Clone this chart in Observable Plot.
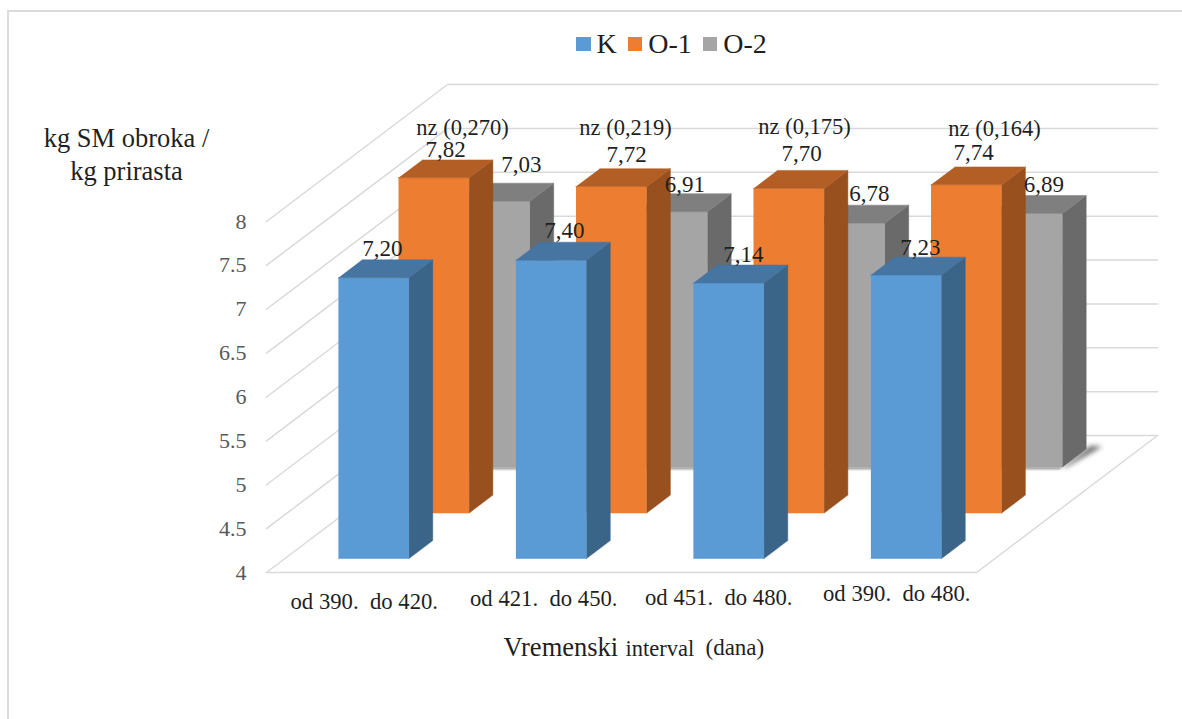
<!DOCTYPE html>
<html>
<head>
<meta charset="utf-8">
<script src="https://cdn.jsdelivr.net/npm/d3@7"></script>
<script src="https://cdn.jsdelivr.net/npm/@observablehq/plot@0.6"></script>
<style>
  html, body { margin: 0; padding: 0; background: #fff; }
  #page { position: relative; width: 1182px; height: 719px; overflow: hidden; font-family: "Liberation Serif", serif; }
  #box { position: absolute; left: 7px; top: 10px; right: -10px; bottom: -10px; border: 2px solid #dcdcdc; }
  #legend { position: absolute; left: 576px; top: 28px; display: flex; align-items: center; font-size: 28px; color: #1f1f1f; line-height: 32px; }
  #legend i { display: inline-block; width: 14.5px; height: 14.5px; margin-right: 6px; }
  #legend span { margin-right: 11px; }
  svg { position: absolute; left: 0; top: 0; }
</style>
</head>
<body>
<div id="page">
  <div id="box"></div>
  <div id="chart"></div>
  <div id="legend"></div>
</div>
<script>
// Feed conversion per time interval, for the control and two test groups.
const intervals = ["od 390.  do 420.", "od 421.  do 450.", "od 451.  do 480.", "od 390.  do 480."];
const seriesNames = ["K", "O-1", "O-2"];
const valuesK = [7.20, 7.40, 7.14, 7.23];
const valuesO1 = [7.82, 7.72, 7.70, 7.74];
const valuesO2 = [7.03, 6.91, 6.78, 6.89];
const significance = ["nz (0,270)", "nz (0,219)", "nz (0,175)", "nz (0,164)"];
const yTicks = [4, 4.5, 5, 5.5, 6, 6.5, 7, 7.5, 8];

// Face colours per series: front, side, top.
const shades = {
  "K": ["#5b9bd5", "#3a6488", "#4675a2"],
  "O-1": ["#ed7d31", "#98501e", "#b35e25"],
  "O-2": ["#a5a5a5", "#6a6a6a", "#7f7f7f"]
};

// Oblique projection: a depth of 1 moves a point along the floor's side edge,
// expressed in the units of the x and y scales.
const depthX = 1.02, depthY = 1.561;
const project = (c, v, d) => ({x: c + d * depthX, y: v + d * depthY});

const seriesDepth = {"K": 0.102, "O-1": 0.434, "O-2": 0.77};
const barDepth = 0.131;
const barWidth = 0.398;
const base = 4;

const polygon = (id, points) => points.map(([c, v, d]) => ({id, ...project(c, v, d)}));
const face = (polys, fill) => Plot.line(polys.flat(), {x: "x", y: "y", z: "id", fill, stroke: fill, strokeWidth: 0.5});

// Wall and floor grid: each tick runs along the left wall and then the back wall.
const gridLines = yTicks.slice(1).flatMap((v) =>
  polygon("g" + v, [[0, v, 0], [0, v, 1], [4, v, 1]]));
const floorLine = polygon("floor", [[0, base, 0], [4, base, 0], [4, base, 1], [0, base, 1], [0, base, 0]]);

const left = (i) => i + 0.5 - barWidth / 2, right = (i) => i + 0.5 + barWidth / 2;

function barMarks(name, values) {
  const d0 = seriesDepth[name], d1 = d0 + barDepth;
  const [front, side, top] = shades[name];
  return [
    face(values.map((v, i) => polygon(`${name}f${i}`, [[left(i), base, d0], [right(i), base, d0], [right(i), v, d0], [left(i), v, d0]])), front),
    face(values.map((v, i) => polygon(`${name}s${i}`, [[right(i), base, d0], [right(i), base, d1], [right(i), v, d1], [right(i), v, d0]])), side),
    face(values.map((v, i) => polygon(`${name}t${i}`, [[left(i), v, d0], [right(i), v, d0], [right(i), v, d1], [left(i), v, d1]])), top)
  ];
}

// Value labels sit over the back edge of each bar's top, nudged off the faces.
const nudgeK = [[-15, -11], [-10.5, -12], [-9, -10.5], [-9.5, -9.5]];
const nudgeO1 = [[-12, -10], [-8.5, -14], [-11, -17], [-16.5, -14.5]];
const nudgeO2 = [[3, -18.5], [-11, -9], [-4, -11.5], [-7, -11]];
const nudgeSig = [[5, -32], [-9.5, -41], [-8, -44], [4.5, -38.5]];
const nudgeCat = [[9, 29], [11, 26], [8.5, 25], [9, 21]];

const textStyle = {fontFamily: "Liberation Serif, serif", fill: "#1f1f1f", lineAnchor: "middle"};
const comma = (v) => v.toFixed(2).replace(".", ",");

function labelMarks(name, values, nudges, texts = values.map(comma), size = 23) {
  const d = seriesDepth[name] + barDepth;
  return values.map((v, i) => {
    const p = project(i + 0.5, v, d);
    return Plot.text([texts[i]], {...textStyle, x: [p.x], y: [p.y], text: (t) => t, dx: nudges[i][0], dy: nudges[i][1], fontSize: size});
  });
}

// Text placed from the top-left corner of the frame; marginLeft shifts its origin.
const marginLeft = 266;
const placed = (text, px, py, fontSize, textAnchor = "start", extra = {}) =>
  Plot.text([text], {...textStyle, ...extra, frameAnchor: "top-left", dx: px - marginLeft, dy: py, fontSize, textAnchor});

// A soft shadow falls onto the floor beside the last grey bar, and a faint one
// runs along the foot of every grey bar.
const shadowD = seriesDepth["O-2"];
const sideShadow = polygon("shadow", [[3.7, base, shadowD], [3.7, base, 0.925], [3.77, base, 0.92], [3.72, base, shadowD - 0.005]]);
const footShadow = valuesO2.flatMap((v, i) => polygon("foot" + i,
  [[left(i), base, shadowD], [right(i), base, shadowD], [right(i), base, shadowD - 0.016], [left(i), base, shadowD - 0.016]]));

const chart = Plot.plot({
  width: 1182,
  height: 719,
  marginLeft,
  marginTop: 0,
  marginRight: 0,
  marginBottom: 0,
  style: {background: "transparent", overflow: "visible"},
  x: {domain: [0, 4], range: [266, 976], axis: null},
  y: {domain: [4, 8], range: [572, 221], axis: null},
  marks: [
    Plot.line(gridLines, {x: "x", y: "y", z: "id", stroke: "#d9d9d9", strokeWidth: 1.5}),
    Plot.line(floorLine, {x: "x", y: "y", stroke: "#d9d9d9", strokeWidth: 1.5}),
    Plot.axisY({ticks: yTicks, tickSize: 0, tickPadding: 20, tickFormat: String, label: null,
      fontSize: 22, fontFamily: "Liberation Serif, serif", fill: "#595959"}),
    Plot.line(sideShadow, {x: "x", y: "y", fill: "#6e6e6e", stroke: "none", imageFilter: "blur(2.5px)"}),
    Plot.line(footShadow, {x: "x", y: "y", z: "id", fill: "#8a8a8a", stroke: "none", imageFilter: "blur(1px)"}),
    ...barMarks("O-2", valuesO2),
    ...barMarks("O-1", valuesO1),
    ...barMarks("K", valuesK),
    ...labelMarks("O-2", valuesO2, nudgeO2),
    ...labelMarks("O-1", valuesO1, nudgeO1),
    ...labelMarks("O-1", valuesO1, nudgeSig, significance, 22.5),
    ...labelMarks("K", valuesK, nudgeK),
    ...intervals.map((t, i) => {
      const p = project(i + 0.5, base, 0);
      return Plot.text([t], {...textStyle, x: [p.x], y: [p.y], text: (s) => s, dx: nudgeCat[i][0], dy: nudgeCat[i][1], fontSize: 22.7});
    }),
    placed("kg SM obroka /\nkg prirasta", 126, 152, 26.5, "middle", {lineHeight: 1.25}),
    placed("Vremenski", 503, 647, 26.5),
    placed("interval", 625, 648, 22.5),
    placed("(dana)", 705, 647, 23)
  ]
});
document.getElementById("chart").append(chart);

// Swatch legend above the plot.
const legend = document.getElementById("legend");
seriesNames.forEach((name) => {
  const swatch = document.createElement("i");
  swatch.style.background = shades[name][0];
  const label = document.createElement("span");
  label.textContent = name;
  legend.append(swatch, label);
});
</script>
</body>
</html>
